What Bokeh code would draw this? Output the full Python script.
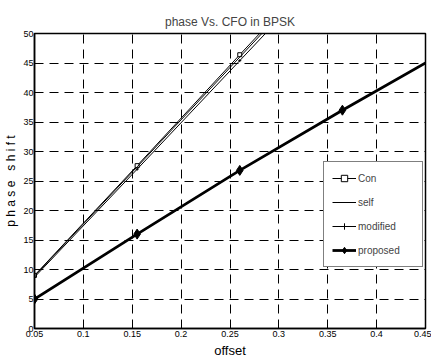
from bokeh.plotting import figure
from bokeh.embed import file_html
from bokeh.resources import INLINE
from bokeh.models import FixedTicker, Legend, LegendItem

# ---- data ----
offset = [0.05, 0.155, 0.26, 0.365, 0.45]
con = [9.0, 27.6, 46.4, 65.0, 80.2]
self_ = [8.9, 27.4, 46.0, 64.6, 79.6]
modified = [8.7, 27.0, 45.4, 63.8, 78.6]
proposed = [5.0, 16.0, 26.8, 37.0, 45.0]
marker_offset = [0.05, 0.155, 0.26, 0.365]

x_ticks = [0.05, 0.1, 0.15, 0.2, 0.25, 0.3, 0.35, 0.4, 0.45]
x_tick_labels = ["0.05", "0.1", "0.15", "0.2", "0.25", "0.3", "0.35", "0.4", "0.45"]
y_ticks = [0, 5, 10, 15, 20, 25, 30, 35, 40, 45, 50]

FONT = "Liberation Sans Narrow, Liberation Sans, Arial Narrow, sans-serif"

p = figure(width=431, height=363, x_range=(0.05, 0.45), y_range=(0, 50),
           output_backend="svg", toolbar_location=None,
           title="phase Vs. CFO in BPSK",
           min_border_left=34, min_border_right=6, min_border_top=33, min_border_bottom=35)

p.title.align = "center"
p.title.text_font = FONT
p.title.text_font_size = "12px"
p.title.text_font_style = "normal"
p.title.standoff = 9

p.outline_line_color = "black"
p.outline_line_width = 1.5
p.background_fill_color = "white"
p.border_fill_color = "white"

p.xaxis.ticker = FixedTicker(ticks=x_ticks)
p.xaxis.major_label_overrides = {t: l for t, l in zip(x_ticks, x_tick_labels)}
p.yaxis.ticker = FixedTicker(ticks=y_ticks)

for ax in (p.xaxis[0], p.yaxis[0]):
    ax.axis_line_color = "black"
    ax.axis_line_width = 1.5
    ax.major_tick_in = 4
    ax.major_tick_out = 0
    ax.minor_tick_line_color = None
    ax.major_label_text_font = FONT
    ax.major_label_text_font_size = "9px"
    ax.major_label_text_color = "black"
    ax.major_label_standoff = 2
    ax.axis_label_text_font = FONT
    ax.axis_label_text_font_style = "normal"
    ax.axis_label_text_color = "black"

p.yaxis.major_label_standoff = 1
p.xaxis.axis_label = "offset"
p.xaxis.axis_label_text_font_size = "13px"
p.xaxis.axis_label_standoff = 3
p.yaxis.axis_label = "p h a s e \u00a0 s h i f t"
p.yaxis.axis_label_text_font_size = "12px"
p.yaxis.axis_label_standoff = 2

for g in (p.xgrid[0], p.ygrid[0]):
    g.grid_line_color = "black"
    g.grid_line_width = 1
    g.grid_line_dash = "9 6"
    g.grid_line_alpha = 1.0

r_con = p.line(offset, con, line_color="black", line_width=1)
s_con = p.scatter(offset[:3], con[:3], marker="square", size=4,
                  line_color="black", fill_color="white", line_width=1)
r_self = p.line(offset, self_, line_color="black", line_width=1)
r_mod = p.line(offset, modified, line_color="black", line_width=1)
s_mod = p.scatter(offset[:3], modified[:3], marker="cross", size=3,
                  line_color="black", line_width=1)
r_prop = p.line(offset, proposed, line_color="black", line_width=2.8)
s_prop = p.scatter(marker_offset, proposed[:4], marker="diamond", size=10,
                   line_color="black", fill_color="black")

legend = Legend(items=[
    LegendItem(label="Con", renderers=[r_con, s_con]),
    LegendItem(label="self", renderers=[r_self]),
    LegendItem(label="modified", renderers=[r_mod, s_mod]),
    LegendItem(label="proposed", renderers=[r_prop, s_prop]),
], location=(289, 61))
legend.border_line_color = "black"
legend.border_line_width = 1
legend.background_fill_color = "white"
legend.background_fill_alpha = 1
legend.label_text_font = FONT
legend.label_text_font_size = "10px"
legend.glyph_width = 24
legend.glyph_height = 16
legend.label_height = 16
legend.label_width = 56
legend.spacing = 8
legend.padding = 8
legend.margin = 0
legend.label_standoff = 2
p.add_layout(legend, "center")

open("out.html", "w").write(file_html(p, INLINE))
